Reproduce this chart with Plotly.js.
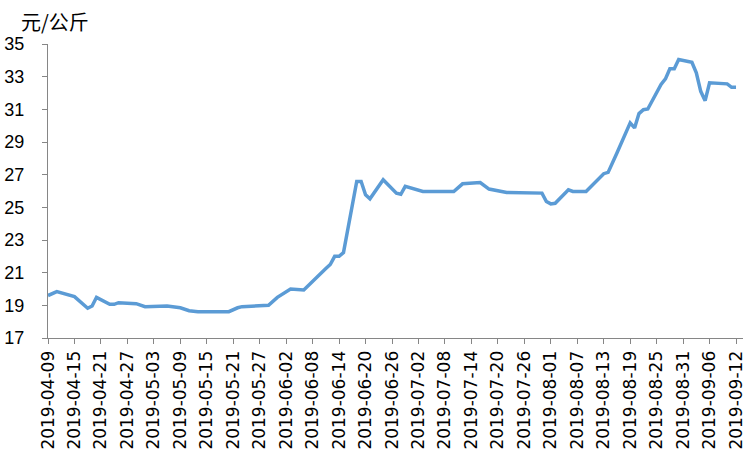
<!DOCTYPE html>
<html>
<head>
<meta charset="utf-8">
<script src="https://cdn.plot.ly/plotly-3.0.1.min.js"></script>
<style>html,body{margin:0;padding:0;background:#fff}#chart{width:751px;height:451px}</style>
</head>
<body>
<div id="chart"></div>
<script>
var dates = ['2019-04-09','2019-04-11','2019-04-15','2019-04-17','2019-04-18','2019-04-19','2019-04-20','2019-04-23','2019-04-24','2019-04-25','2019-04-29','2019-05-01','2019-05-06','2019-05-09','2019-05-11','2019-05-13','2019-05-20','2019-05-22','2019-05-23','2019-05-29','2019-05-31','2019-06-03','2019-06-06','2019-06-11','2019-06-12','2019-06-13','2019-06-14','2019-06-15','2019-06-17','2019-06-18','2019-06-19','2019-06-20','2019-06-21','2019-06-24','2019-06-27','2019-06-28','2019-06-29','2019-07-01','2019-07-03','2019-07-10','2019-07-12','2019-07-16','2019-07-18','2019-07-22','2019-07-30','2019-07-31','2019-08-01','2019-08-02','2019-08-05','2019-08-06','2019-08-09','2019-08-13','2019-08-14','2019-08-16','2019-08-19','2019-08-20','2019-08-21','2019-08-22','2019-08-23','2019-08-26','2019-08-27','2019-08-28','2019-08-29','2019-08-30','2019-09-02','2019-09-03','2019-09-04','2019-09-05','2019-09-06','2019-09-10','2019-09-11','2019-09-12'];
var prices = [19.60,19.84,19.53,19.06,18.82,18.96,19.49,19.06,19.06,19.16,19.10,18.92,18.96,18.85,18.67,18.61,18.61,18.85,18.92,19.00,19.49,20.00,19.94,21.25,21.50,22.00,22.00,22.23,24.95,26.58,26.58,25.77,25.52,26.69,25.87,25.80,26.28,26.12,25.97,25.97,26.44,26.52,26.12,25.91,25.87,25.36,25.21,25.25,26.07,25.97,25.97,27.06,27.14,28.33,30.17,29.86,30.74,30.98,31.02,32.52,32.86,33.48,33.48,34.05,33.88,33.23,32.10,31.53,32.62,32.56,32.35,32.35];
var unitLabel = '元/公斤';
var yTicks = [17,19,21,23,25,27,29,31,33,35];

var L = 48, R = 8, T = 44, B = 113, W = 751, H = 451;
var trace = {
  x: dates, y: prices, type: 'scatter', mode: 'lines',
  line: {color: '#5B9BD5', width: 3.5},
  hoverinfo: 'x+y'
};
var layout = {
  width: W, height: H,
  margin: {l: L, r: R, t: T, b: B, pad: 0},
  paper_bgcolor: '#fff', plot_bgcolor: '#fff',
  showlegend: false,
  annotations: [{
    text: unitLabel, showarrow: false,
    xref: 'paper', yref: 'paper',
    x: (19 - L) / (W - L - R), xanchor: 'left',
    y: 1 + (T - 22) / (H - T - B), yanchor: 'middle',
    font: {family: 'Noto Sans CJK SC, sans-serif', size: 20, color: '#000'}
  }],
  xaxis: {
    type: 'date', range: ['2019-04-09', '2019-09-13 14:00'],
    tick0: '2019-04-09', dtick: 6*86400000, tickformat: '%Y-%m-%d',
    tickangle: -90, ticks: 'outside', ticklen: 5, tickcolor: '#868686',
    showline: true, linecolor: '#868686', linewidth: 1,
    showgrid: false, zeroline: false,
    tickfont: {family: 'DejaVu Sans, sans-serif', size: 17, color: '#000'}
  },
  yaxis: {
    range: [17, 35], tickvals: yTicks, ticktext: yTicks.map(String),
    ticks: 'outside', ticklen: 5, tickcolor: '#868686',
    showline: true, linecolor: '#868686', linewidth: 1,
    showgrid: false, zeroline: false, ticklabelstandoff: 14,
    tickfont: {family: 'Liberation Sans, Arial, sans-serif', size: 18, color: '#000'}
  }
};
Plotly.newPlot('chart', [trace], layout, {displayModeBar: false, staticPlot: true});
</script>
</body>
</html>
